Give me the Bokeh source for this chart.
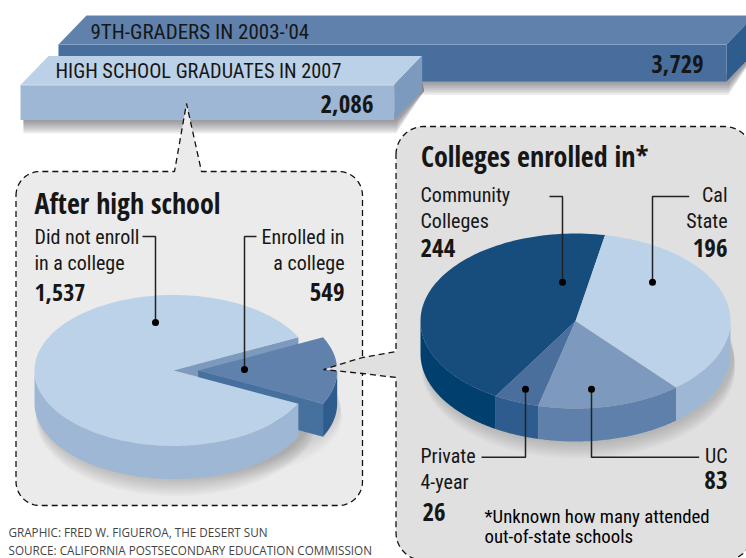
import numpy as np
from bokeh.plotting import figure
from bokeh.models import Range1d
from bokeh.core.properties import value
from bokeh.embed import file_html
from bokeh.resources import INLINE

# ---- values read from the graphic ----
BAR_LABELS = ["9TH-GRADERS IN 2003-'04", "HIGH SCHOOL GRADUATES IN 2007"]
BAR_VALUES = [3729, 2086]
OUTCOME_VALUES = [1537, 549]            # did not enroll, enrolled
COLLEGE_NAMES = ["Community Colleges", "Private 4-year", "UC", "Cal State"]
COLLEGE_VALUES = [244, 26, 83, 196]
CREDITS = ["GRAPHIC: FRED W. FIGUEROA, THE DESERT SUN",
           "SOURCE: CALIFORNIA POSTSECONDARY EDUCATION COMMISSION"]

NARROW = "Roboto Condensed"
HEAVY = "Open Sans Condensed"
SANS = "Open Sans"
INK = "#161616"
BASE_K = 0.37   # the svg text sits this fraction of its size below the asked baseline

p = figure(width=746, height=558, x_range=Range1d(0, 746), y_range=Range1d(558, 0),
           x_axis_type=None, y_axis_type=None, toolbar_location=None,
           output_backend="svg", min_border=0, outline_line_color=None,
           background_fill_color="white", border_fill_color="white")
p.grid.visible = False


def poly(pts, color, alpha=1.0):
    pts = np.asarray(pts, float)
    p.patch(pts[:, 0], pts[:, 1], fill_color=color, fill_alpha=alpha, line_color=None)


def txt(x, y, s, size, bold=False, align="left", color=INK, font=None):
    font = font or (HEAVY if bold else NARROW)
    p.text([x], [y - BASE_K * size], text=[s], text_font=value(font), text_font_size=f"{size}px",
           text_font_style="bold" if bold else "normal", text_align=align,
           text_baseline="alphabetic", text_color=color)


# ---- 3-D bars: front width is proportional to the value ----
PX_PER_UNIT = 668 / 3729
DX, DY = 28, 29


def bar(x0, y0, y1, val, top, front, side, edge):
    x1 = x0 + val * PX_PER_UNIT
    for i in range(1, 9):
        sh = [(x0 + 3, y1 - 8), (x1, y1 - 8), (x1 + DX, y1 - 8 - DY),
              (x1 + DX + 2, y1 - DY), (x1 + 2, y1 + i * 1.7), (x0 + 3, y1 + i * 1.7)]
        poly(sh, "#4a4050", 0.085)
    poly([(x0, y0), (x0 + DX, y0 - DY), (x1 + DX, y0 - DY), (x1, y0)], top)
    poly([(x1, y0), (x1 + DX, y0 - DY), (x1 + DX, y1 - DY), (x1, y1)], side)
    poly([(x0, y0), (x1, y0), (x1, y1), (x0, y1)], front)
    p.line([x0, x1], [y0, y0], line_color=edge, line_width=1)


bar(58, 44, 81, BAR_VALUES[0], "#5f81ac", "#476e9d", "#2e5c8c", "#86a2c4")
bar(20, 84.5, 119.5, BAR_VALUES[1], "#bbd1e7", "#9db7d4", "#7c9abd", "#cfdeee")
txt(90, 39, BAR_LABELS[0], 21)
txt(55, 78, BAR_LABELS[1], 20.3)
txt(703, 73, f"{BAR_VALUES[0]:,}", 24.5, True, "right")
txt(373, 112.5, f"{BAR_VALUES[1]:,}", 25, True, "right")


# ---- call-out panels ----
def rounded(x0, y0, x1, y1, r, top_notch=None, left_notch=None):
    def arc(cx, cy, a0, a1):
        t = np.radians(np.linspace(a0, a1, 14))
        return [(cx + r * np.cos(v), cy + r * np.sin(v)) for v in t]
    pts = arc(x0 + r, y0 + r, 180, 270)
    if top_notch:
        pts += top_notch
    pts += arc(x1 - r, y0 + r, 270, 360)
    pts += arc(x1 - r, y1 - r, 0, 90)
    pts += arc(x0 + r, y1 - r, 90, 180)
    if left_notch:
        pts += left_notch
    pts.append(pts[0])
    return pts


def panel(pts, fill):
    a = np.array(pts)
    p.patch(a[:, 0], a[:, 1], fill_color=fill, line_color=None)
    p.line(a[:, 0], a[:, 1], line_color="#111111", line_width=1.3, line_dash="6 4")


panel(rounded(15.5, 171, 362, 505, 24,
              top_notch=[(174, 171), (186, 103), (201, 171)]), "#ebebeb")


# ---- pies (flattened circles) ----
def ell(cx, cy, a, b, t0, t1, n=90):
    t = np.radians(np.linspace(t0, t1, n))
    return np.c_[cx + a * np.cos(t), cy - b * np.sin(t)]


def rim(cx, cy, a, b, d, t0, t1, color):
    lo, hi = max(t0, 180), min(t1, 360)
    if hi <= lo:
        return
    up = ell(cx, cy, a, b, lo, hi)
    down = up[::-1] + [0, d]
    poly(np.r_[up, down], color)


def shadow(cx, cy, a, b, d, alpha=0.035):
    for i in range(1, 10):
        poly(ell(cx + 3, cy + d + i * 1.6, a + i * 0.2, b + i * 0.3, 0, 360), "#555058", alpha)


DEPTH = 33
# left pie: the source draws the enrolled slice narrower than its share
CX, CY, A, B = 173, 370, 139, 75.5
half = OUTCOME_VALUES[1] / sum(OUTCOME_VALUES) * 360 * 0.55 / 2
SHIFT = 24.7
shadow(CX, CY, A, B, DEPTH)
shadow(CX + SHIFT, CY, A, B * 0.8, DEPTH, 0.02)
# inner wall of the gap
poly(np.r_[[[CX, CY]], ell(CX, CY, A, B, half, half, 1), [[CX + A * np.cos(np.radians(half)), CY + 30]]], "#7c9abd")
# slice walls, rim and face
wx, wy = ell(CX + SHIFT, CY, A, B, -half, -half, 1)[0]
poly([(CX + SHIFT, CY), (wx, wy), (wx, wy + DEPTH), (CX + SHIFT, CY + DEPTH)], "#46709e")
rim(CX + SHIFT, CY, A, B, DEPTH, 360 - half, 360, "#2e5c8c")
poly(np.r_[[[CX + SHIFT, CY]], ell(CX + SHIFT, CY, A, B, -half, half)], "#5f81ac")
# big slice
rim(CX, CY, A, B, DEPTH, half, 360 - half, "#9db7d4")
poly(np.r_[[[CX, CY]], ell(CX, CY, A, B, half, 360 - half, 200)], "#bcd2e8")

panel(rounded(395.5, 126, 752, 560, 28,
              left_notch=[(395.5, 377), (362, 373), (323, 369), (362, 357), (395.5, 351)]), "#e0e0e0")

# right pie: shares are true angles
CX2, CY2, A2, B2 = 575, 320.5, 155, 87.5
shadow(CX2, CY2, A2, B2, DEPTH)
TOP = ["#174d7d", "#4a6f9c", "#7d9abe", "#bcd2e8"]
SIDE = ["#003f6e", "#2f5c8e", "#5e80ab", "#9db7d4"]
start = 79.0
shares = np.array(COLLEGE_VALUES, float) / sum(COLLEGE_VALUES) * 360
edges = start + np.r_[0, np.cumsum(shares)]
for i in range(len(shares)):
    rim(CX2, CY2, A2, B2, DEPTH, edges[i], edges[i + 1], SIDE[i])
for i in range(len(shares)):
    poly(np.r_[[[CX2, CY2]], ell(CX2, CY2, A2, B2, edges[i], edges[i + 1])], TOP[i])


# ---- leaders ----
def leader(xs, ys):
    p.line(xs, ys, line_color="#222222", line_width=1.5)
    p.scatter([xs[-1]], [ys[-1]], size=7, color="black", line_color=None)


leader([142, 155, 155], [236, 236, 322])
leader([256, 244, 244], [236, 236, 369])
leader([549, 562, 562], [196, 196, 281.7])
leader([688.7, 652, 652], [196, 196, 281.7])
leader([481, 525, 525], [456.7, 456.7, 388.7])
leader([698.7, 591, 591], [456.7, 456.7, 388.7])

# ---- texts ----
txt(34, 212.5, "After high school", 28, True)
txt(34, 244, "Did not enroll", 20)
txt(34, 270, "in a college", 20)
txt(34, 301, f"{OUTCOME_VALUES[0]:,}", 24, True)
txt(344, 244, "Enrolled in", 20, align="right")
txt(344, 270, "a college", 20, align="right")
txt(344, 301, f"{OUTCOME_VALUES[1]:,}", 25, True, "right")

txt(420.5, 166, "Colleges enrolled in*", 28, True)
txt(420, 202, "Community", 20)
txt(420, 228, "Colleges", 20)
txt(420, 257, f"{COLLEGE_VALUES[0]}", 25, True)
txt(727, 202, "Cal", 20, align="right")
txt(727, 228, "State", 20, align="right")
txt(727, 257, f"{COLLEGE_VALUES[3]}", 25, True, "right")
txt(420, 463, "Private", 20)
txt(420, 489, "4-year", 20)
txt(422, 521, f"{COLLEGE_VALUES[1]}", 25, True)
txt(727, 463, "UC", 20, align="right")
txt(727, 489, f"{COLLEGE_VALUES[2]}", 25, True, "right")
txt(484, 523, "*Unknown how many attended", 18.8, color="#000000")
txt(484, 543, "out-of-state schools", 18.8, color="#000000")

txt(8, 536, CREDITS[0], 11.7, color="#444444", font=SANS)
txt(8, 554, CREDITS[1], 11.7, color="#444444", font=SANS)

open("out.html", "w").write(file_html(p, INLINE))
